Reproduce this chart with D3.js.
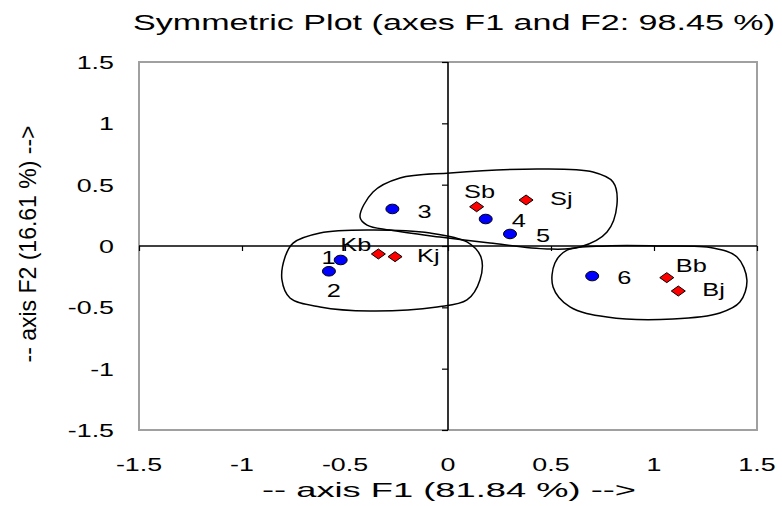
<!DOCTYPE html>
<html>
<head>
  <meta charset="UTF-8">
  <style>
    body { margin: 0; background: white; }
    text { font-family: "Liberation Sans", Arial, sans-serif; fill: black; }
  </style>
</head>
<body>
<svg></svg>
<script src="https://d3js.org/d3.v7.min.js"></script>
<script>

// Observations (blue circles)
let obsNames = ["1", "2", "3", "4", "5", "6"];
let obsF1 = [-0.521, -0.578, -0.270, 0.183, 0.301, 0.700];
let obsF2 = [-0.114, -0.206, 0.302, 0.220, 0.098, -0.245];

// Variables (red diamonds)
let varNames = ["Kb", "Kj", "Sb", "Sj", "Bb", "Bj"];
let varF1 = [-0.338, -0.257, 0.139, 0.379, 1.062, 1.118];
let varF2 = [-0.065, -0.087, 0.320, 0.375, -0.258, -0.367];

// Hand drawn group outlines, in axis units
let groupK = [[-0.752, 0.024], [-0.621, 0.106], [-0.379, 0.130], [-0.087, 0.106], [0.092, 0.033],
  [0.160, -0.090], [0.155, -0.277], [0.092, -0.440], [-0.053, -0.497], [-0.379, -0.530],
  [-0.621, -0.497], [-0.767, -0.424], [-0.806, -0.277], [-0.791, -0.090]];
let groupS = [[-0.427, 0.236], [-0.364, 0.440], [-0.233, 0.554], [0.010, 0.595], [0.447, 0.628],
  [0.704, 0.603], [0.801, 0.522], [0.820, 0.334], [0.772, 0.114], [0.641, -0.008],
  [0.481, -0.024], [0.204, 0.024], [-0.039, 0.073], [-0.282, 0.130], [-0.393, 0.171]];
let groupB = [[0.578, -0.033], [0.772, 0.000], [1.015, 0.000], [1.286, -0.016], [1.403, -0.090],
  [1.451, -0.277], [1.417, -0.457], [1.320, -0.546], [1.092, -0.595], [0.772, -0.579],
  [0.592, -0.497], [0.510, -0.334], [0.519, -0.139]];

let xTicks = [-1.5, -1, -0.5, 0, 0.5, 1, 1.5];
let yTicks = [-1.5, -1, -0.5, 0, 0.5, 1, 1.5];

let titleText = "Symmetric Plot (axes F1 and F2: 98.45 %)";
let xTitle = "-- axis F1 (81.84 %) -->";
let yTitle = "-- axis F2 (16.61 %) -->";

// label placement: [dx, dy, anchor]
let labelPos = {
  "1": [-5, 4, "end"], "2": [5, 26, "middle"], "3": [25, 9, "start"],
  "4": [26, 8, "start"], "5": [26, 8, "start"], "6": [25, 8, "start"],
  "Kb": [-7, -3, "end"], "Kj": [22, 5, "start"], "Sb": [3, -9, "middle"],
  "Sj": [24, 5, "start"], "Bb": [9, -6, "start"], "Bj": [24, 5, "start"]
};

let width = 782, height = 506;
let sx = 1.45; // horizontal stretch of the text

let svg = d3.select("svg").attr("width", width).attr("height", height);

let x = d3.scaleLinear().domain([-1.5, 1.5]).range([139, 757]);
let y = d3.scaleLinear().domain([-1.5, 1.5]).range([430, 62]);

function place(sel, px, py, k) {
  return sel.attr("x", 0).attr("y", 0)
    .attr("transform", `translate(${px},${py}) scale(${k || sx},1)`);
}

// plot border
svg.append("rect")
  .attr("x", x(-1.5)).attr("y", y(1.5))
  .attr("width", x(1.5) - x(-1.5)).attr("height", y(-1.5) - y(1.5))
  .attr("fill", "none").attr("stroke", "#a0a0a0").attr("stroke-width", 2);

// zero axes
svg.append("line")
  .attr("x1", x(-1.5)).attr("x2", x(1.5)).attr("y1", y(0)).attr("y2", y(0))
  .attr("stroke", "black").attr("stroke-width", 1.6);
svg.append("line")
  .attr("x1", x(0)).attr("x2", x(0)).attr("y1", y(1.5)).attr("y2", y(-1.5))
  .attr("stroke", "black").attr("stroke-width", 1.6);

let xAxis = svg.append("g")
  .attr("transform", `translate(0,${y(0)})`)
  .call(d3.axisBottom(x).tickValues(xTicks).tickSize(5).tickFormat(""));
let yAxis = svg.append("g")
  .attr("transform", `translate(${x(0)},0)`)
  .call(d3.axisLeft(y).tickValues(yTicks).tickSize(6).tickFormat(""));
svg.selectAll(".domain").remove();
svg.selectAll(".tick line").attr("stroke", "black").attr("stroke-width", 1.2);

// tick labels
let fmt = d => String(d);
svg.append("g").selectAll("text")
  .data(xTicks).enter().append("text")
  .attr("text-anchor", "middle")
  .style("font-size", "18.5px")
  .text(fmt)
  .each(function(d) { place(d3.select(this), x(d), 471); });

svg.append("g").selectAll("text")
  .data(yTicks).enter().append("text")
  .attr("text-anchor", "end")
  .style("font-size", "18.5px")
  .text(fmt)
  .each(function(d) { place(d3.select(this), 114, y(d) + 7); });

// group outlines
let outline = d3.line()
  .x(d => x(d[0])).y(d => y(d[1]))
  .curve(d3.curveCatmullRomClosed.alpha(0.5));

svg.append("g").selectAll("path")
  .data([groupK, groupS, groupB]).enter().append("path")
  .attr("d", outline)
  .attr("fill", "none").attr("stroke", "black").attr("stroke-width", 1.5);

// points
let obs = obsNames.map((n, i) => ({ name: n, f1: obsF1[i], f2: obsF2[i] }));
let vars = varNames.map((n, i) => ({ name: n, f1: varF1[i], f2: varF2[i] }));

svg.append("g").selectAll("ellipse")
  .data(obs).enter().append("ellipse")
  .attr("cx", d => x(d.f1)).attr("cy", d => y(d.f2))
  .attr("rx", 6.5).attr("ry", 4.8)
  .attr("fill", "#0000ff").attr("stroke", "black").attr("stroke-width", 1);

svg.append("g").selectAll("path")
  .data(vars).enter().append("path")
  .attr("d", d => {
    let cx = x(d.f1), cy = y(d.f2);
    return `M${cx - 7},${cy} L${cx},${cy - 5} L${cx + 7},${cy} L${cx},${cy + 5} Z`;
  })
  .attr("fill", "#ff0000").attr("stroke", "black").attr("stroke-width", 1);

// point labels
svg.append("g").selectAll("text")
  .data(obs.concat(vars)).enter().append("text")
  .attr("text-anchor", d => labelPos[d.name][2])
  .style("font-size", "17.5px")
  .text(d => d.name)
  .each(function(d) {
    let p = labelPos[d.name];
    place(d3.select(this), x(d.f1) + p[0], y(d.f2) + p[1]);
  });

// titles
svg.append("text")
  .attr("x", 454).attr("y", 30)
  .attr("text-anchor", "middle")
  .attr("textLength", 642).attr("lengthAdjust", "spacingAndGlyphs")
  .style("font-size", "22px")
  .text(titleText);

svg.append("text")
  .attr("x", 449).attr("y", 497)
  .attr("text-anchor", "middle")
  .attr("textLength", 374).attr("lengthAdjust", "spacingAndGlyphs")
  .style("font-size", "21px")
  .text(xTitle);

svg.append("text")
  .attr("text-anchor", "middle")
  .attr("x", 0).attr("y", 0)
  .attr("transform", `translate(36,244) rotate(-90) scale(1,${sx})`)
  .attr("textLength", 237).attr("lengthAdjust", "spacingAndGlyphs")
  .style("font-size", "16px")
  .text(yTitle);

</script>
</body>
</html>
